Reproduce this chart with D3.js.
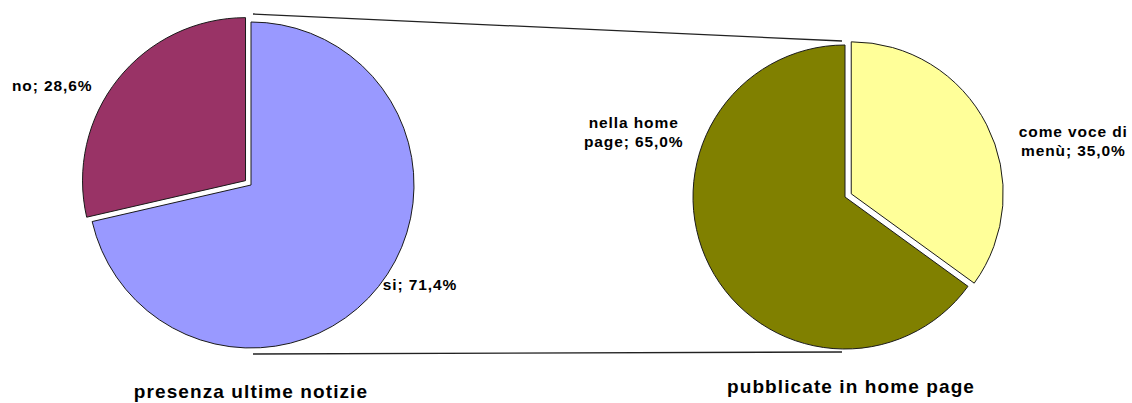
<!DOCTYPE html>
<html lang="it">
<head>
<meta charset="UTF-8">
<title>Ultime notizie</title>
<script src="https://d3js.org/d3.v7.min.js"></script>
<style>
  body { margin: 0; background: #fff; }
  text { font-family: "Liberation Sans", Arial, sans-serif; font-weight: bold; fill: #000; }
</style>
</head>
<body>
<svg width="1132" height="403"></svg>
<script>
    // data
    const leftTitle = "presenza ultime notizie";
    const leftLabels = ["si", "no"];
    const leftValues = [71.4, 28.6];
    const leftColors = ["#9999ff", "#993366"];

    const rightTitle = "pubblicate in home page";
    const rightLabels = ["come voce di menù", "nella home page"];
    const rightValues = [35.0, 65.0];
    const rightColors = ["#ffff99", "#808000"];

    const width = 1132, height = 403;
    const svg = d3.select("svg").attr("width", width).attr("height", height);

    const it = d3.formatLocale({decimal: ",", thousands: ".", grouping: [3], currency: ["", " €"]});
    const pct = it.format(".1f");
    const deg = Math.PI / 180;

    // layout of the two pies (angles in degrees, clockwise from top)
    const pies = [
        {title: leftTitle, labels: leftLabels, values: leftValues, colors: leftColors,
         cx: 251, cy: 185, r: 163, explode: [0, 7], titleY: 398, titleDx: 0,
         labelPos: [{a: 127, r: 165, anchor: "start"}, {a: 302, r: 187, anchor: "end"}]},
        {title: rightTitle, labels: rightLabels, values: rightValues, colors: rightColors,
         cx: 845, cy: 197, r: 152, explode: [7, 0], titleY: 393, titleDx: 6,
         labelPos: [{a: 76.3, r: 235, anchor: "middle"}, {a: 287, r: 221, anchor: "middle"}]}
    ];

    const labelSize = 15.5, lineH = 19;

    // connector lines between the pies
    const L = pies[0], R = pies[1];
    const connectors = [
        [[L.cx + 2, L.cy - L.r - 8], [R.cx - 3, R.cy - R.r - 4]],
        [[L.cx + 2, L.cy + L.r + 6], [R.cx - 3, R.cy + R.r + 3]]
    ];
    svg.selectAll("line.conn")
        .data(connectors).enter()
        .append("line")
        .attr("class", "conn")
        .attr("x1", d => d[0][0]).attr("y1", d => d[0][1])
        .attr("x2", d => d[1][0]).attr("y2", d => d[1][1])
        .style("stroke", "#222")
        .style("stroke-width", 1.3);

    function wrap(str, maxChars) {
        const words = str.split(" ");
        const lines = [];
        let cur = "";
        words.forEach(w => {
            if (cur && (cur + " " + w).length > maxChars) { lines.push(cur); cur = w; }
            else cur = cur ? cur + " " + w : w;
        });
        if (cur) lines.push(cur);
        return lines;
    }

    pies.forEach(function(p) {
        const arcs = d3.pie().sort(null)(p.values);
        const arc = d3.arc().innerRadius(0).outerRadius(p.r);
        const g = svg.append("g").attr("transform", `translate(${p.cx},${p.cy})`);

        // slices
        g.selectAll("path")
            .data(arcs).enter()
            .append("path")
            .attr("transform", function(d, i) {
                const mid = (d.startAngle + d.endAngle) / 2;
                const off = d3.arc().innerRadius(p.explode[i]).outerRadius(p.explode[i])
                    .startAngle(mid).endAngle(mid).centroid();
                return `translate(${off[0]},${off[1]})`;
            })
            .attr("d", arc)
            .style("fill", (d, i) => p.colors[i])
            .style("stroke", "#1a1a1a")
            .style("stroke-width", 1)
            .style("stroke-linejoin", "miter");

        // data labels
        arcs.forEach(function(d, i) {
            const lp = p.labelPos[i];
            const pos = d3.arc().innerRadius(lp.r).outerRadius(lp.r)
                .startAngle(lp.a * deg).endAngle(lp.a * deg).centroid();
            const lines = wrap(`${p.labels[i]}; ${pct(p.values[i])}%`, 12);
            const y0 = pos[1] - (lines.length - 1) * lineH / 2 + 5.5;
            const t = g.append("text")
                .attr("text-anchor", lp.anchor)
                .style("font-size", labelSize + "px")
                .style("letter-spacing", "0.9px");
            lines.forEach((ln, k) => {
                t.append("tspan").attr("x", pos[0]).attr("y", y0 + k * lineH).text(ln);
            });
        });

        // title
        svg.append("text")
            .attr("x", p.cx + p.titleDx)
            .attr("y", p.titleY)
            .attr("text-anchor", "middle")
            .style("font-size", "19px")
            .style("letter-spacing", "1.1px")
            .text(p.title);
    });
</script>
</body>
</html>
